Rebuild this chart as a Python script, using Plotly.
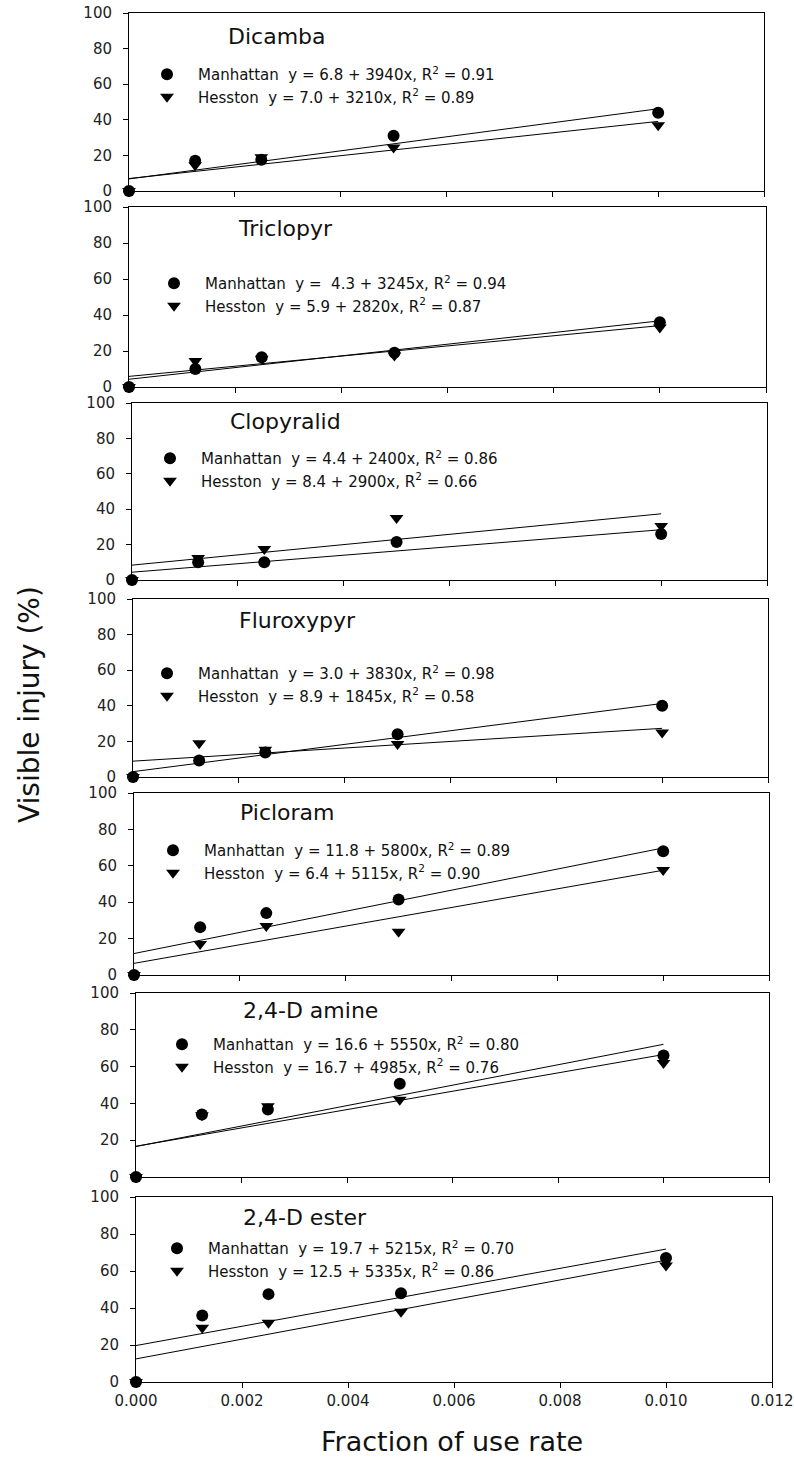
import plotly.graph_objects as go

# ---------------- data ----------------
herbicides = ["Dicamba", "Triclopyr", "Clopyralid", "Fluroxypyr", "Picloram", "2,4-D amine", "2,4-D ester"]
rate = [0.0, 0.00125, 0.0025, 0.005, 0.010]

manhattan = {
    "Dicamba":     [0, 17.0, 17.5, 31.0, 44.0],
    "Triclopyr":   [0, 10.0, 16.5, 19.0, 36.0],
    "Clopyralid":  [0, 10.0, 10.0, 21.5, 26.0],
    "Fluroxypyr":  [0, 9.3, 13.8, 24.0, 40.0],
    "Picloram":    [0, 26.3, 34.0, 41.5, 68.0],
    "2,4-D amine": [0, 34.0, 36.7, 50.7, 66.0],
    "2,4-D ester": [0, 36.0, 47.5, 48.0, 67.0],
}
hesston = {
    "Dicamba":     [0, 14.5, 19.0, 24.5, 37.0],
    "Triclopyr":   [0, 14.4, 15.7, 17.5, 33.0],
    "Clopyralid":  [0, 12.4, 17.5, 35.0, 30.5],
    "Fluroxypyr":  [0, 19.0, 15.3, 18.5, 25.0],
    "Picloram":    [0, 17.1, 26.9, 23.8, 57.7],
    "2,4-D amine": [0, 33.5, 38.4, 42.0, 62.0],
    "2,4-D ester": [0, 29.3, 32.0, 38.0, 63.0],
}
# fitted regression: intercept, slope, R^2
fit_man = {
    "Dicamba": (6.8, 3940, 0.91), "Triclopyr": (4.3, 3245, 0.94), "Clopyralid": (4.4, 2400, 0.86),
    "Fluroxypyr": (3.0, 3830, 0.98), "Picloram": (11.8, 5800, 0.89), "2,4-D amine": (16.6, 5550, 0.80),
    "2,4-D ester": (19.7, 5215, 0.70),
}
fit_hes = {
    "Dicamba": (7.0, 3210, 0.89), "Triclopyr": (5.9, 2820, 0.87), "Clopyralid": (8.4, 2900, 0.66),
    "Fluroxypyr": (8.9, 1845, 0.58), "Picloram": (6.4, 5115, 0.90), "2,4-D amine": (16.7, 4985, 0.76),
    "2,4-D ester": (12.5, 5335, 0.86),
}
fit_range = [0.0, 0.010]
x_ticks = [0.000, 0.002, 0.004, 0.006, 0.008, 0.010, 0.012]
x_tick_labels = ["0.000", "0.002", "0.004", "0.006", "0.008", "0.010", "0.012"]
y_ticks = [0, 20, 40, 60, 80, 100]

# ---------------- layout geometry (pixels) ----------------
W, H = 794, 1460
panel_box = [  # left, right, top, bottom
    (129, 764, 13, 191),
    (129, 766, 207, 387),
    (132, 767, 403, 580),
    (133, 768, 599, 777),
    (134, 769, 793, 975),
    (136, 769, 993, 1177),
    (136, 772, 1197, 1382),
]
title_pos = [(226, 36), (236, 228), (228, 422), (237, 621), (238, 812), (241, 1010), (241, 1217)]
legend_pos = [(167, 71), (174, 280), (170, 455), (167, 670), (173, 847), (182, 1041), (177, 1245)]

FONT = "DejaVu Sans"
NB = "\u00a0"
ITEMW = 52

fig = go.Figure()
layout = dict(
    width=W, height=H, margin=dict(l=0, r=0, t=0, b=0, autoexpand=False),
    paper_bgcolor="white", plot_bgcolor="white",
    font=dict(family=FONT, color="#111"),
    annotations=[],
)

for i, h in enumerate(herbicides):
    n = i + 1
    xa = "x" if n == 1 else f"x{n}"
    ya = "y" if n == 1 else f"y{n}"
    lg = "legend" if n == 1 else f"legend{n}"
    a_m, b_m, r_m = fit_man[h]
    a_h, b_h, r_h = fit_hes[h]
    sp = NB + NB if h == "Triclopyr" else NB
    name_m = f"Manhattan{NB}{NB}y ={sp}{a_m:.1f} + {b_m}x, R<sup>2</sup> = {r_m:.2f}"
    name_h = f"Hesston{NB}{NB}y = {a_h:.1f} + {b_h}x, R<sup>2</sup> = {r_h:.2f}"

    fig.add_trace(go.Scatter(x=fit_range, y=[a_m + b_m * v for v in fit_range], mode="lines",
                             line=dict(color="black", width=1), xaxis=xa, yaxis=ya, showlegend=False,
                             hoverinfo="skip"))
    fig.add_trace(go.Scatter(x=fit_range, y=[a_h + b_h * v for v in fit_range], mode="lines",
                             line=dict(color="black", width=1), xaxis=xa, yaxis=ya, showlegend=False,
                             hoverinfo="skip"))
    fig.add_trace(go.Scatter(x=rate, y=hesston[h], mode="markers", name=name_h, legendrank=2,
                             marker=dict(symbol="triangle-down", size=12, color="black"),
                             xaxis=xa, yaxis=ya, cliponaxis=False, legend=lg))
    fig.add_trace(go.Scatter(x=rate, y=manhattan[h], mode="markers", name=name_m, legendrank=1,
                             marker=dict(symbol="circle", size=12, color="black"),
                             xaxis=xa, yaxis=ya, cliponaxis=False, legend=lg))

    l, r, t, b = panel_box[i]
    last = n == len(herbicides)
    layout["xaxis" if n == 1 else f"xaxis{n}"] = dict(
        domain=[l / W, r / W], anchor=ya, range=[0, 0.012], tickvals=x_ticks,
        ticktext=x_tick_labels, showticklabels=last, ticks="outside", ticklen=5,
        tickcolor="black", showline=True, linecolor="black", linewidth=1, mirror=True,
        showgrid=False, zeroline=False, tickfont=dict(family=FONT, size=15, color="#222"),
    )
    layout["yaxis" if n == 1 else f"yaxis{n}"] = dict(
        domain=[1 - b / H, 1 - t / H], anchor=xa, range=[0, 100], tickvals=y_ticks,
        ticks="outside", ticklen=5, tickcolor="black", showline=True, linecolor="black",
        linewidth=1, mirror=True, showgrid=False, zeroline=False, ticklabelstandoff=8,
        tickfont=dict(family=FONT, size=15, color="#222"),
    )
    lx, ly = legend_pos[i]
    layout[lg] = dict(
        x=(lx - (ITEMW + 10) / 2) / W, y=1 - (ly - 13) / H, xanchor="left", yanchor="top",
        bgcolor="rgba(0,0,0,0)", borderwidth=0, traceorder="normal",
        font=dict(family=FONT, size=15, color="#111"), itemwidth=ITEMW,
    )
    tx, ty = title_pos[i]
    layout["annotations"].append(dict(
        text=h, x=tx / W, y=1 - ty / H, xref="paper", yref="paper", xanchor="left",
        yanchor="middle", showarrow=False, font=dict(family=FONT, size=22, color="#111"),
    ))

layout["annotations"].append(dict(
    text="Visible injury (%)", x=29 / W, y=1 - 705 / H, xref="paper", yref="paper",
    xanchor="center", yanchor="middle", textangle=-90, showarrow=False,
    font=dict(family=FONT, size=28, color="#111"),
))
layout["annotations"].append(dict(
    text="Fraction of use rate", x=452 / W, y=1 - 1441 / H, xref="paper", yref="paper",
    xanchor="center", yanchor="middle", showarrow=False,
    font=dict(family=FONT, size=27, color="#111"),
))

fig.update_layout(**layout)
fig.write_html("out.html")
